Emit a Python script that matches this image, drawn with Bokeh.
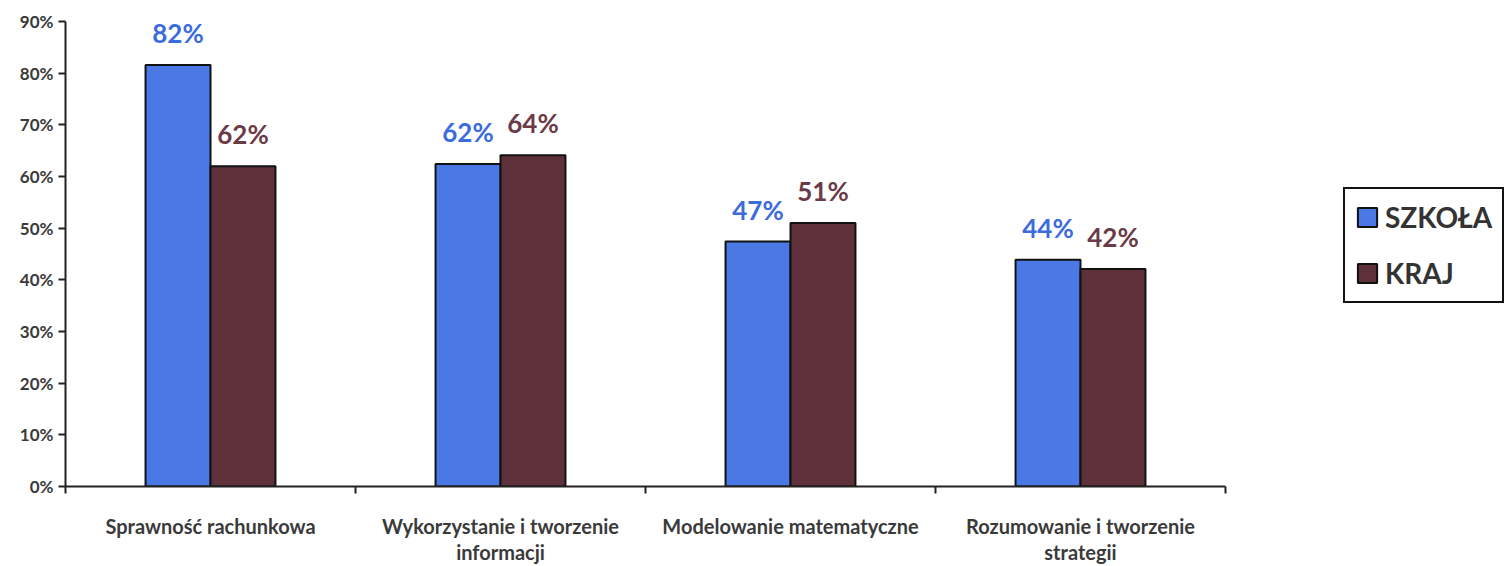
from bokeh.plotting import figure
from bokeh.models import ColumnDataSource, Range1d, FixedTicker, Legend, LegendItem, NumeralTickFormatter
from bokeh.core.properties import value
from bokeh.embed import file_html
from bokeh.resources import INLINE

categories = ["Sprawność rachunkowa", "Wykorzystanie i tworzenie\ninformacji",
              "Modelowanie matematyczne", "Rozumowanie i tworzenie\nstrategii"]
szkola = [81.6, 62.4, 47.4, 43.9]
kraj = [62.0, 64.1, 51.0, 42.1]
szkola_labels = ["82%", "62%", "47%", "44%"]
kraj_labels = ["62%", "64%", "51%", "42%"]
y_ticks = [0, 10, 20, 30, 40, 50, 60, 70, 80, 90]

BLUE = "#4A78E4"
MAROON = "#5E303A"
BLUE_T = "#3B6BDD"
MAROON_T = "#6A3B47"
FONT = "Lato"

n = len(categories)
centers = [i + 0.5 for i in range(n)]
bw = 0.224

W, H = 1511, 566
LEFT, RIGHT, TOP, BOTTOM = 65, 6, 21, 77
frame_w = W - LEFT - RIGHT
axis_px = 1160  # pixel length of the category axis
x_end = n * frame_w / axis_px

src_s = ColumnDataSource(dict(x=[c - bw / 2 for c in centers], top=szkola, lab=szkola_labels))
src_k = ColumnDataSource(dict(x=[c + bw / 2 for c in centers], top=kraj, lab=kraj_labels))

p = figure(width=W, height=H, output_backend="svg", toolbar_location=None,
           x_range=Range1d(0, x_end), y_range=Range1d(0, 90),
           min_border_left=LEFT, min_border_right=RIGHT, min_border_top=TOP, min_border_bottom=BOTTOM)
p.outline_line_color = None
p.xgrid.visible = False
p.ygrid.visible = False
p.background_fill_color = "white"
p.border_fill_color = "white"

r1 = p.vbar(x="x", top="top", width=bw, source=src_s, fill_color=BLUE, line_color="#111111", line_width=2)
r2 = p.vbar(x="x", top="top", width=bw, source=src_k, fill_color=MAROON, line_color="#111111", line_width=2)

p.text(x="x", y="top", text="lab", source=src_s, text_align="center", text_baseline="bottom",
       y_offset=-16, text_font=value(FONT), text_font_style="bold", text_font_size="26px",
       text_color=BLUE_T)
p.text(x="x", y="top", text="lab", source=src_k, text_align="center", text_baseline="bottom",
       y_offset=-16, text_font=value(FONT), text_font_style="bold", text_font_size="26px",
       text_color=MAROON_T)

# x axis: labels at category centres, ticks at boundaries
p.xaxis.bounds = (0, n)
p.xaxis.ticker = FixedTicker(ticks=centers, minor_ticks=list(range(n + 1)))
p.xaxis.major_label_overrides = {c: lab for c, lab in zip(centers, categories)}
p.xaxis.major_tick_out = 0
p.xaxis.major_tick_in = 0
p.xaxis.minor_tick_out = 7
p.xaxis.minor_tick_in = 0
p.xaxis.minor_tick_line_width = 2
p.xaxis.minor_tick_line_color = "#222222"
p.xaxis.axis_line_width = 2
p.xaxis.axis_line_color = "#222222"
p.xaxis.major_label_standoff = 20
p.xaxis.major_label_text_font = FONT
p.xaxis.major_label_text_font_style = "bold"
p.xaxis.major_label_text_font_size = "20px"
p.xaxis.major_label_text_color = "#3a3a3a"
p.xaxis.major_label_text_line_height = 1.1

p.yaxis.ticker = FixedTicker(ticks=y_ticks, minor_ticks=[])
p.yaxis.formatter = NumeralTickFormatter(format="0")
p.yaxis.major_label_overrides = {t: f"{t}%" for t in y_ticks}
p.yaxis.major_tick_out = 7
p.yaxis.major_tick_in = 0
p.yaxis.major_tick_line_width = 2
p.yaxis.major_tick_line_color = "#222222"
p.yaxis.axis_line_width = 2
p.yaxis.axis_line_color = "#222222"
p.yaxis.major_label_standoff = 5
p.yaxis.major_label_text_font = FONT
p.yaxis.major_label_text_font_style = "bold"
p.yaxis.major_label_text_font_size = "17px"
p.yaxis.major_label_text_color = "#3a3a3a"

legend = Legend(items=[LegendItem(label="SZKOŁA", renderers=[r1]),
                       LegendItem(label="KRAJ", renderers=[r2])],
                location=(1278, 183))
legend.glyph_width = 24
legend.glyph_height = 24
legend.label_height = 36
legend.spacing = 20
legend.padding = 10
legend.margin = 0
legend.label_standoff = 6
legend.label_text_font = FONT
legend.label_text_font_style = "bold"
legend.label_text_font_size = "28px"
legend.label_text_color = "#333333"
legend.border_line_color = "#111111"
legend.border_line_alpha = 1.0
legend.border_line_width = 2
legend.background_fill_color = "white"
legend.background_fill_alpha = 1.0
p.add_layout(legend, "center")

open("out.html", "w").write(file_html(p, INLINE))
